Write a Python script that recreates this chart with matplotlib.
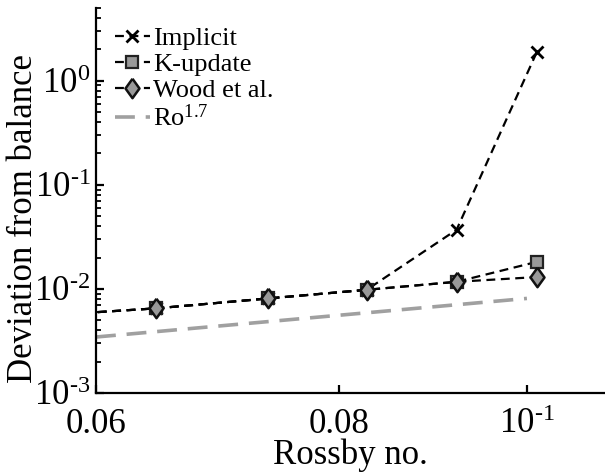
import matplotlib
matplotlib.use("Agg")
import matplotlib.pyplot as plt

plt.rcParams["font.family"] = "Liberation Serif"
plt.rcParams["mathtext.fontset"] = "custom"
plt.rcParams["mathtext.rm"] = "Liberation Serif"
plt.rcParams["mathtext.it"] = "Liberation Serif:italic"
plt.rcParams["axes.unicode_minus"] = False

# Rossby numbers (first point lies left of the axis and is clipped)
rossby = [0.0552, 0.0644, 0.0736, 0.0827, 0.092, 0.1012]
implicit = [5.4e-3, 6.5e-3, 8.1e-3, 9.8e-3, 3.7e-2, 1.9]
k_update = [5.4e-3, 6.5e-3, 8.1e-3, 9.8e-3, 1.17e-2, 1.82e-2]
wood = [5.4e-3, 6.5e-3, 8.1e-3, 9.8e-3, 1.17e-2, 1.3e-2]
ref_x = [0.06, 0.1]
ref_y = [3.45e-3, 8.1e-3]

x_ticks = [0.06, 0.08, 0.1]
x_tick_labels = ["0.06", "0.08", r"10$^{\text{-}1}$"]
y_ticks = [1e-3, 1e-2, 1e-1, 1e0]
y_tick_labels = [r"10$^{\text{-}3}$", r"10$^{\text{-}2}$", r"10$^{\text{-}1}$", r"10$^{0}$"]

fig = plt.figure(figsize=(6.05, 4.72), dpi=100)
ax = fig.add_axes([0.1587, 0.1674, 0.8413, 0.8157])

grey = "#999999"
diamond = [(0, 1), (0.72, 0), (0, -1), (-0.72, 0), (0, 1)]
dash = (0, (4, 2.5))

ax.plot(rossby, implicit, linestyle=dash, color="black", lw=1.6,
        marker="x", markersize=9, mew=2, label="Implicit")
ax.plot(rossby, k_update, linestyle=dash, color="black", lw=1.6,
        marker="s", markersize=9, mfc=grey, mec="#222222", mew=1.6, label="K-update")
ax.plot(rossby, wood, linestyle=dash, color="black", lw=1.6,
        marker=diamond, markersize=14, mfc=grey, mec="#111111", mew=1.8, label="Wood et al.")
ax.plot(ref_x, ref_y, linestyle=(0, (5.5, 3)), color="#a0a0a0", lw=2.6, label=r"Ro$^{1.7}$")

ax.set_xscale("log")
ax.set_yscale("log")
ax.set_xlim(0.06, 0.1097)
ax.set_ylim(1e-3, 5)

ax.set_xticks(x_ticks)
ax.set_xticklabels(x_tick_labels)
ax.xaxis.set_minor_locator(matplotlib.ticker.NullLocator())
ax.set_yticks(y_ticks)
ax.set_yticklabels(y_tick_labels)

for side in ["top", "right"]:
    ax.spines[side].set_visible(False)
for side in ["left", "bottom"]:
    ax.spines[side].set_linewidth(1.6)

ax.tick_params(axis="both", which="major", direction="in", length=6, width=1.6,
               labelsize=25)
ax.tick_params(axis="x", which="major", pad=11)
ax.tick_params(axis="y", which="major", pad=4)
ax.tick_params(axis="y", which="minor", direction="in", length=3.5, width=1.3)

ax.set_xlabel("Rossby no.", fontsize=25)
ax.set_ylabel("Deviation from balance", fontsize=25)
ax.xaxis.set_label_coords(0.5, -0.119)
ax.yaxis.set_label_coords(-0.11, 0.452)

ax.legend(loc="upper left", bbox_to_anchor=(0.017, 0.978), frameon=False,
          fontsize=19, handlelength=1.3, handletextpad=0.15, labelspacing=0.09,
          borderaxespad=0.0)

fig.savefig("out.png", dpi=100)
